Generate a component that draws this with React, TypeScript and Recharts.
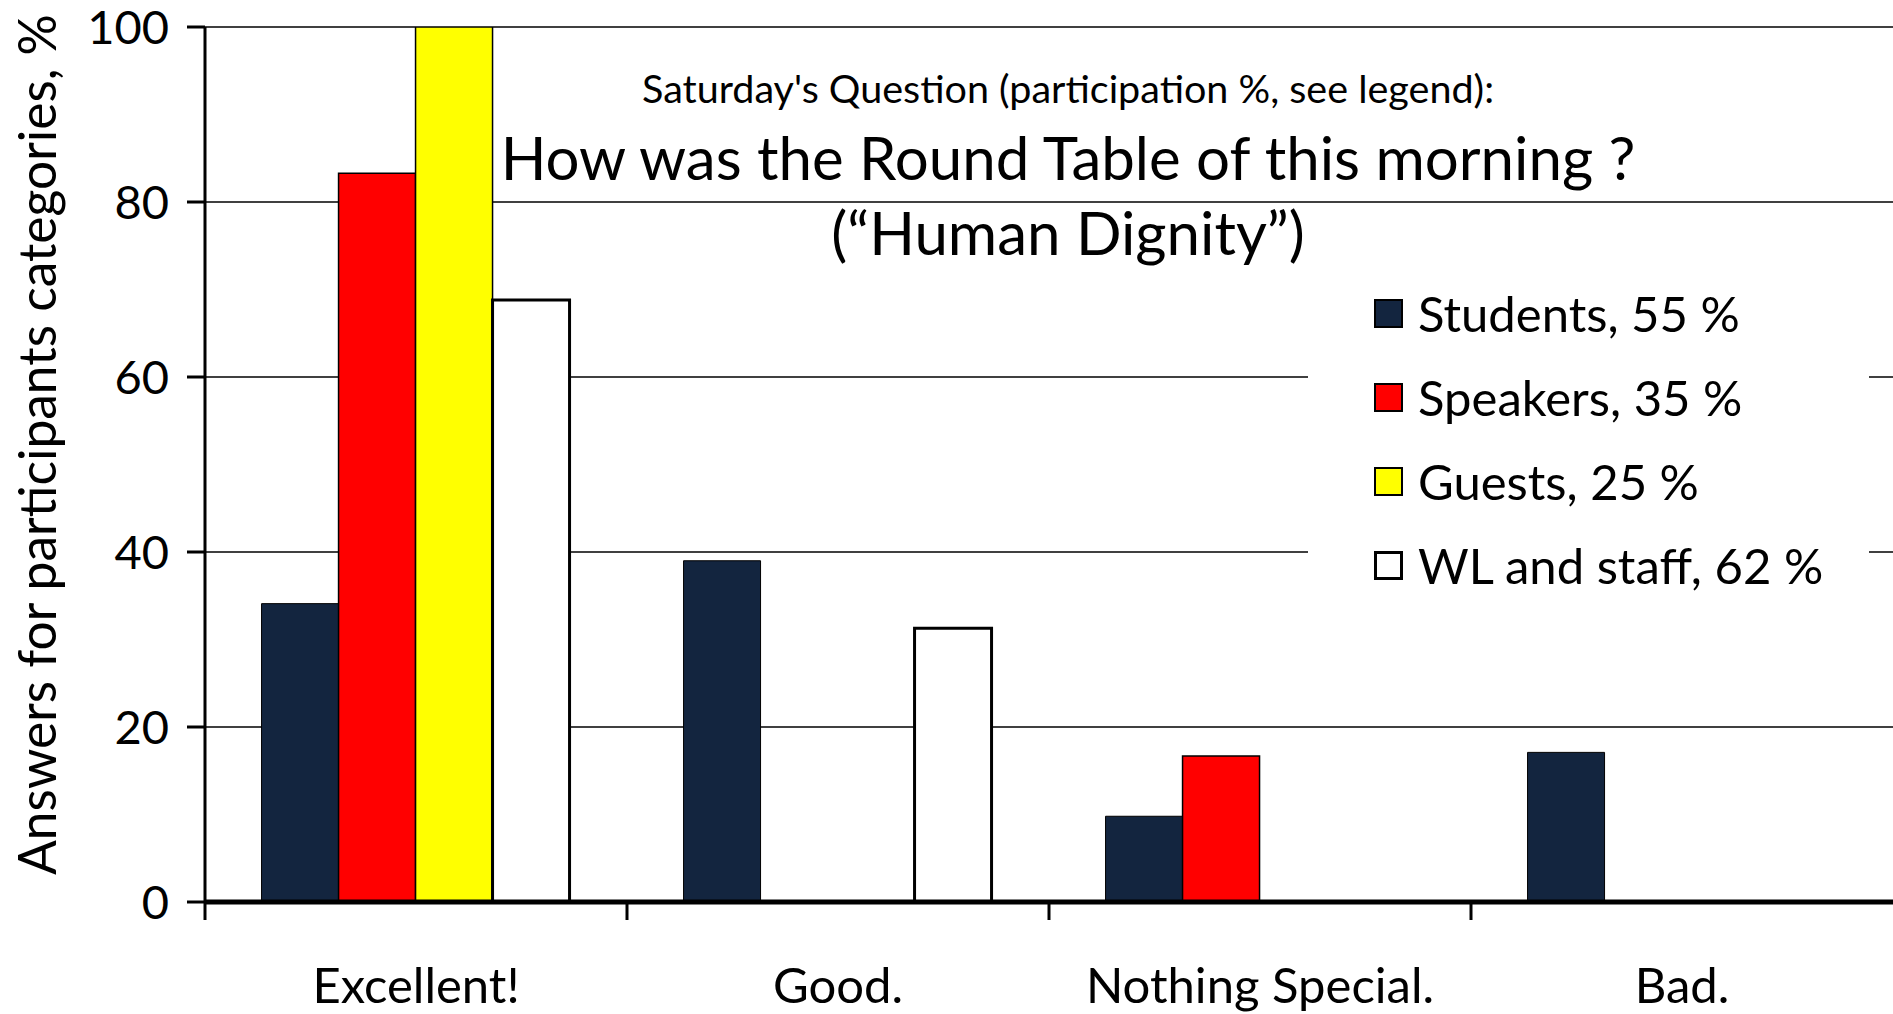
import React from 'react'
import { BarChart, Bar, XAxis, YAxis, CartesianGrid, Legend, Label } from 'recharts'

const CATEGORIES = ['Excellent!', 'Good.', 'Nothing Special.', 'Bad.'];
const STUDENTS = [34.1, 39.0, 9.8, 17.1];
const SPEAKERS = [83.3, null, 16.7, null];
const GUESTS = [100, null, null, null];
const STAFF = [68.8, 31.3, null, null];
const Y_TICKS = [0, 20, 40, 60, 80, 100];

const SERIES = [
  { key: 'students', name: 'Students, 55 %', fill: '#13253F', stroke: '#000', sw: 1 },
  { key: 'speakers', name: 'Speakers, 35 %', fill: '#FF0000', stroke: '#000', sw: 1.5 },
  { key: 'guests', name: 'Guests, 25 %', fill: '#FFFF00', stroke: '#000', sw: 1.5 },
  { key: 'staff', name: 'WL and staff, 62 %', fill: '#FFFFFF', stroke: '#000', sw: 3 },
];

const SUBTITLE = "Saturday's Question (participation %, see legend):";
const TITLE = 'How was the Round Table of this morning ?';
const TITLE2 = '(\u201CHuman Dignity\u201D)';
const Y_LABEL = 'Answers for participants categories, %';

const data = CATEGORIES.map((name, i) => ({
  name,
  students: STUDENTS[i],
  speakers: SPEAKERS[i],
  guests: GUESTS[i],
  staff: STAFF[i],
}));

const W = 1893;
const H = 1014;
const FONT = 'Lato, "Open Sans", sans-serif';
const X_TICK_SIZE = 18;
const X_TICK_MARGIN = 48;

const CategoryTick = (props: any) => {
  const { x, y, payload } = props;
  const half = payload && payload.offset ? payload.offset : (W - 205) / CATEGORIES.length / 2;
  const lineTop = y - X_TICK_MARGIN - X_TICK_SIZE;
  return (
    <g>
      <line x1={x - half} x2={x - half} y1={lineTop} y2={lineTop + X_TICK_SIZE} stroke="#000" strokeWidth={3} />
      <text x={x} y={y} dy="0.71em" textAnchor="middle" fill="#000" fontSize={49} fontFamily={FONT}>
        {payload.value}
      </text>
    </g>
  );
};

const YLabel = (props: any) => {
  const vb = props.viewBox || { x: 0, y: 27, width: 205, height: 875 };
  const cx = vb.x + 36;
  const cy = vb.y + vb.height / 2 - 20;
  return (
    <text x={cx} y={cy} transform={`rotate(-90 ${cx} ${cy})`} textAnchor="middle" dominantBaseline="central"
      fill="#000" fontSize={51.5} fontFamily={FONT}>
      {Y_LABEL}
    </text>
  );
};

const LegendBox = () => (
  <div style={{ fontFamily: FONT, fontSize: 49, color: '#000' }}>
    {SERIES.map((s) => (
      <div key={s.key} style={{ height: 84, display: 'flex', alignItems: 'center', paddingLeft: 66 }}>
        <span style={{
          display: 'inline-block', width: 29, height: 29, background: s.fill,
          border: `${s.key === 'staff' ? 3 : 2}px solid #000`, marginRight: 15, boxSizing: 'border-box',
        }} />
        <span style={{ lineHeight: 1, whiteSpace: 'nowrap' }}>{s.name}</span>
      </div>
    ))}
  </div>
);

const titleStyle = (top: number, size: number): React.CSSProperties => ({
  position: 'absolute', left: 1068, top, transform: 'translate(-50%, -50%)',
  fontFamily: FONT, fontSize: size, lineHeight: 1, whiteSpace: 'nowrap', color: '#000', zIndex: 2,
});

export default function App() {
  return (
    <div style={{ position: 'absolute', left: 0, top: 0, width: W, height: H, background: '#fff' }}>
      <BarChart
        width={W}
        height={H}
        data={data}
        margin={{ top: 27, right: 0, left: 0, bottom: 0 }}
        barCategoryGap="13.4%"
        barGap={0}
      >
        <CartesianGrid vertical={false} stroke="#000" strokeWidth={1.5} />
        <XAxis
          dataKey="name"
          height={H - 902}
          axisLine={{ stroke: '#000', strokeWidth: 5 }}
          tickLine={false}
          tickSize={X_TICK_SIZE}
          tickMargin={X_TICK_MARGIN}
          tick={<CategoryTick />}
          interval={0}
        />
        <YAxis
          width={205}
          domain={[0, 100]}
          ticks={Y_TICKS}
          allowDataOverflow
          axisLine={{ stroke: '#000', strokeWidth: 3 }}
          tickLine={{ stroke: '#000', strokeWidth: 3 }}
          tickSize={18}
          tickMargin={18}
          tick={{ fill: '#000', fontSize: 47, fontFamily: FONT }}
        >
          <Label content={<YLabel />} />
        </YAxis>
        {SERIES.map((s) => (
          <Bar key={s.key} dataKey={s.key} name={s.name} fill={s.fill} stroke={s.stroke}
            strokeWidth={s.sw} isAnimationActive={false} />
        ))}
        <Legend
          layout="vertical"
          align="center"
          verticalAlign="middle"
          content={<LegendBox />}
          wrapperStyle={{ left: 1308, top: 271, width: 561, height: 336, background: '#fff' }}
        />
      </BarChart>
      <div style={titleStyle(88, 39.5)}>{SUBTITLE}</div>
      <div style={titleStyle(157, 60)}>{TITLE}</div>
      <div style={titleStyle(232, 60)}>{TITLE2}</div>
    </div>
  );
}
